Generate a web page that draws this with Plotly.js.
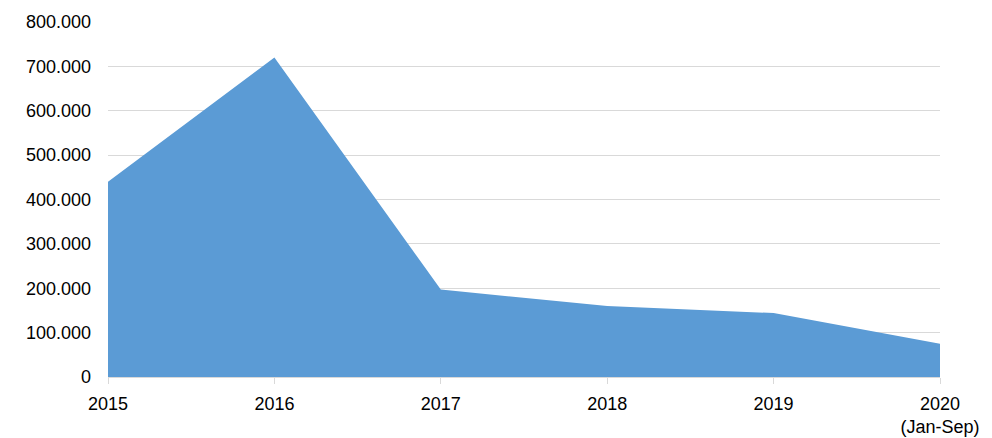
<!DOCTYPE html>
<html>
<head>
<meta charset="utf-8">
<script src="https://cdn.plot.ly/plotly-3.0.1.min.js"></script>
<style>html,body{margin:0;padding:0;background:#fff;}#chart{width:992px;height:438px;}</style>
</head>
<body>
<div id="chart"></div>
<script>
const categories = ["2015", "2016", "2017", "2018", "2019", "2020<br>(Jan-Sep)"];
const values = [440000, 720000, 197000, 160000, 144000, 75000];
const yTickValues = [0, 100000, 200000, 300000, 400000, 500000, 600000, 700000, 800000];

const trace = {
  x: categories,
  y: values,
  type: "scatter",
  mode: "lines",
  fill: "tozeroy",
  fillcolor: "#5b9bd5",
  line: {color: "#5b9bd5", width: 0},
  hoverinfo: "skip"
};

const layout = {
  width: 992,
  height: 438,
  margin: {l: 108, r: 52, t: 22, b: 61},
  paper_bgcolor: "#ffffff",
  plot_bgcolor: "#ffffff",
  separators: ",.",
  showlegend: false,
  font: {family: "Liberation Sans, Arial, sans-serif", size: 18, color: "#000000"},
  xaxis: {
    type: "category",
    range: [0, 5],
    showgrid: false,
    showline: true,
    linecolor: "#d9d9d9",
    linewidth: 1,
    ticks: "outside",
    ticklen: 6,
    tickcolor: "#d9d9d9",
    ticklabelstandoff: 4,
    tickfont: {size: 18, color: "#000000"},
    zeroline: false
  },
  yaxis: {
    range: [0, 800000],
    tickvals: yTickValues,
    tickformat: ",",
    showgrid: true,
    gridcolor: "#d9d9d9",
    gridwidth: 1,
    zeroline: false,
    showline: false,
    ticks: "",
    ticklabelstandoff: 16,
    tickfont: {size: 18, color: "#000000"}
  }
};

Plotly.newPlot("chart", [trace], layout, {displayModeBar: false, staticPlot: true});
</script>
</body>
</html>
